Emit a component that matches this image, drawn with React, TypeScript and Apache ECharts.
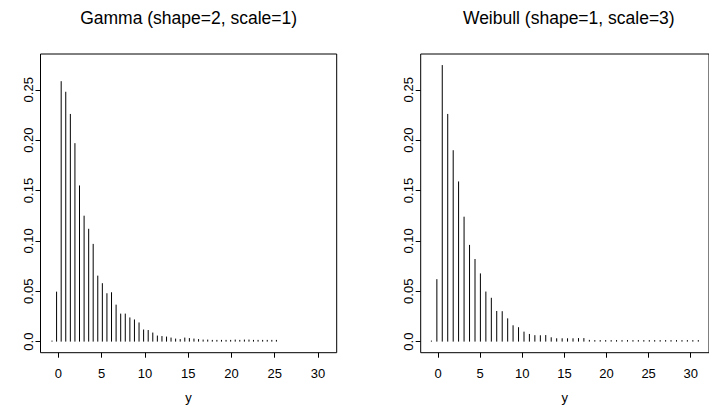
import React, { useEffect, useRef } from "react";
import * as echarts from "echarts";

// Panel titles
const gammaTitle = "Gamma (shape=2, scale=1)";
const weibullTitle = "Weibull (shape=1, scale=3)";
const xAxisName = "y";

// Gamma panel: positions and heights of the spikes
const gammaX = [
  -0.74, -0.21, 0.32, 0.85, 1.38, 1.91, 2.44, 2.97, 3.5, 4.02,
  4.55, 5.08, 5.61, 6.14, 6.67, 7.2, 7.73, 8.26, 8.79, 9.32,
  9.85, 10.38, 10.91, 11.44, 11.97, 12.5, 13.02, 13.55, 14.08, 14.61,
  15.14, 15.67, 16.2, 16.73, 17.26, 17.79, 18.32, 18.85, 19.38, 19.91,
  20.44, 20.97, 21.5, 22.03, 22.55, 23.08, 23.61, 24.14, 24.67, 25.2,
];
const gammaY = [
  0.001, 0.0496, 0.2585, 0.248, 0.226, 0.197, 0.155, 0.125, 0.112, 0.097,
  0.0655, 0.058, 0.048, 0.049, 0.0367, 0.0278, 0.0278, 0.024, 0.022, 0.019,
  0.012, 0.0115, 0.009, 0.006, 0.0055, 0.005, 0.004, 0.003, 0.0025, 0.004,
  0.0035, 0.003, 0.0025, 0.002, 0.002, 0.0017, 0.0017, 0.0017, 0.0017, 0.0017,
  0.002, 0.0017, 0.002, 0.002, 0.0017, 0.0017, 0.0017, 0.0017, 0.0017, 0.0017,
];

// Weibull panel: positions and heights of the spikes
const weibullX = [
  -0.8, -0.15, 0.49, 1.14, 1.79, 2.43, 3.08, 3.73, 4.38, 5.02,
  5.67, 6.32, 6.96, 7.61, 8.26, 8.9, 9.55, 10.2, 10.84, 11.49,
  12.14, 12.78, 13.43, 14.08, 14.73, 15.37, 16.02, 16.67, 17.31, 17.96,
  18.61, 19.25, 19.9, 20.55, 21.19, 21.84, 22.49, 23.14, 23.78, 24.43,
  25.08, 25.72, 26.37, 27.02, 27.66, 28.31, 28.96, 29.6, 30.25, 30.9,
];
const weibullY = [
  0.001, 0.062, 0.2745, 0.226, 0.19, 0.159, 0.124, 0.096, 0.082, 0.0677,
  0.0497, 0.0435, 0.0304, 0.0302, 0.0231, 0.0162, 0.0143, 0.0099, 0.0076, 0.0064,
  0.0063, 0.0065, 0.0043, 0.0033, 0.0033, 0.0033, 0.0033, 0.0035, 0.0035, 0.0017,
  0.0015, 0.0015, 0.0015, 0.0015, 0.0015, 0.0015, 0.0015, 0.0015, 0.0015, 0.0015,
  0.0015, 0.0015, 0.0015, 0.0015, 0.0015, 0.0015, 0.0015, 0.0015, 0.0015, 0.0015,
];

// Tick marks and their labels
const xTickValues = [0, 5, 10, 15, 20, 25, 30];
const yTickValues = [0, 0.05, 0.1, 0.15, 0.2, 0.25];
const yTickLabels = ["0.0", "0.05", "0.10", "0.15", "0.20", "0.25"];

const FONT = "'Liberation Sans', Arial, Helvetica, sans-serif";

const X_MIN = -2.07;
const X_MAX = 32.17;
const Y_MIN = -0.011;
const Y_MAX = 0.2855;

const GRID_TOP = 54;
const GRID_W = 296.2;
const GRID_H = 298.7;
const PANEL_LEFT = [40.5, 420.7];

function spikes(params: any, api: any) {
  const x = api.value(0);
  const y = api.value(1);
  const p0 = api.coord([x, 0]);
  const p1 = api.coord([x, y]);
  return {
    type: "line",
    shape: { x1: p0[0], y1: p0[1], x2: p1[0], y2: p1[1] },
    style: { stroke: "#000", lineWidth: 1 },
  };
}

function makeXAxis(gridIndex: number) {
  return {
    type: "value",
    gridIndex,
    position: "bottom",
    min: X_MIN,
    max: X_MAX,
    name: xAxisName,
    nameLocation: "middle",
    nameGap: 38,
    nameTextStyle: { color: "#000", fontSize: 13, fontFamily: FONT },
    axisLine: { show: false, onZero: false },
    splitLine: { show: false },
    axisTick: {
      show: true,
      inside: false,
      length: 5,
      customValues: xTickValues,
      lineStyle: { color: "#000", width: 1 },
    },
    axisLabel: {
      show: true,
      customValues: xTickValues,
      margin: 14,
      color: "#000",
      fontSize: 13,
      fontFamily: FONT,
    },
  };
}

function makeYAxis(gridIndex: number) {
  return {
    type: "value",
    gridIndex,
    position: "left",
    min: Y_MIN,
    max: Y_MAX,
    axisLine: { show: false, onZero: false },
    splitLine: { show: false },
    axisTick: {
      show: true,
      inside: false,
      length: 5,
      customValues: yTickValues,
      lineStyle: { color: "#000", width: 1 },
    },
    axisLabel: {
      show: true,
      customValues: yTickValues,
      rotate: 90,
      margin: 6,
      color: "#000",
      fontSize: 13,
      fontFamily: FONT,
      formatter: (v: number) => {
        const i = yTickValues.findIndex((t) => Math.abs(t - v) < 1e-9);
        return i >= 0 ? yTickLabels[i] : "";
      },
    },
  };
}

function titleText(text: string, cx: number) {
  return {
    type: "text",
    x: cx,
    y: 18,
    style: {
      text,
      fill: "#000",
      fontSize: 17.5,
      fontFamily: FONT,
      align: "center",
      textAlign: "center",
      verticalAlign: "middle",
      textVerticalAlign: "middle",
    },
  };
}

export default function App() {
  const ref = useRef<HTMLDivElement>(null);

  useEffect(() => {
    if (!ref.current) return;
    const chart = echarts.init(ref.current, undefined, { renderer: "svg" });
    chart.setOption({
      animation: false,
      backgroundColor: "#fff",
      textStyle: { fontFamily: FONT },
      grid: PANEL_LEFT.map((left) => ({
        left,
        top: GRID_TOP,
        width: GRID_W,
        height: GRID_H,
        show: true,
        borderColor: "#000",
        borderWidth: 1,
        backgroundColor: "transparent",
        containLabel: false,
      })),
      xAxis: [makeXAxis(0), makeXAxis(1)],
      yAxis: [makeYAxis(0), makeYAxis(1)],
      graphic: [
        titleText(gammaTitle, PANEL_LEFT[0] + GRID_W / 2),
        titleText(weibullTitle, PANEL_LEFT[1] + GRID_W / 2),
      ],
      series: [
        {
          type: "custom",
          xAxisIndex: 0,
          yAxisIndex: 0,
          renderItem: spikes,
          encode: { x: 0, y: 1 },
          data: gammaX.map((x, i) => [x, gammaY[i]]),
        },
        {
          type: "custom",
          xAxisIndex: 1,
          yAxisIndex: 1,
          renderItem: spikes,
          encode: { x: 0, y: 1 },
          data: weibullX.map((x, i) => [x, weibullY[i]]),
        },
      ],
    });
    return () => chart.dispose();
  }, []);

  return (
    <div
      ref={ref}
      style={{ position: "absolute", left: 0, top: 0, width: 709, height: 410 }}
    />
  );
}
